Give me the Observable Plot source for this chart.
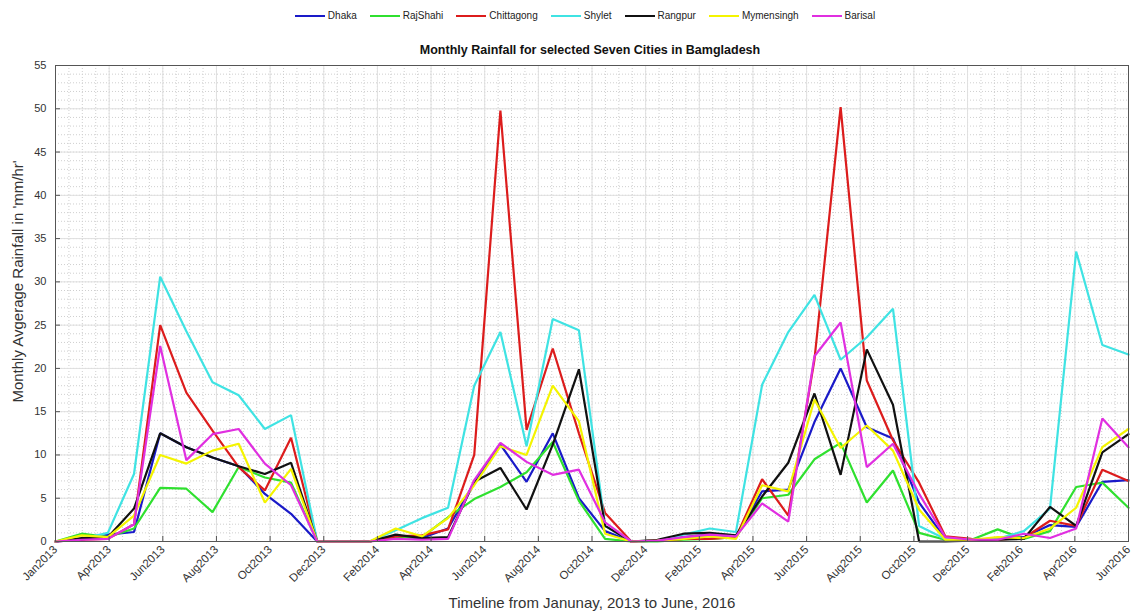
<!DOCTYPE html>
<html>
<head>
<meta charset="utf-8">
<script src="https://cdn.jsdelivr.net/npm/d3@7"></script>
<script src="https://cdn.jsdelivr.net/npm/@observablehq/plot@0.6"></script>
<style>
  html, body { margin: 0; padding: 0; background: #fff; }
  #wrap { position: relative; width: 1136px; height: 616px; overflow: hidden; font-family: "Liberation Sans", Arial, sans-serif; }
  #legend { position: absolute; left: 0; top: 10px; width: 1136px; display: flex; justify-content: center; padding-left: 34px; box-sizing: border-box; font-size: 10px; color: #222; }
  .item { display: flex; align-items: center; margin: 0 6.5px; }
  .sw { display: inline-block; width: 30px; height: 0; border-top: 2.5px solid; margin-right: 3px; }
  #title { position: absolute; left: 0; top: 43px; width: 1136px; box-sizing: border-box; padding-left: 44px; text-align: center; font-weight: bold; font-size: 12.5px; color: #111; }
  #chart { position: absolute; left: 0; top: 0; }
</style>
</head>
<body>
<div id="wrap">
  <div id="chart"></div>
  <div id="legend"></div>
  <div id="title">Monthly Rainfall for selected Seven Cities in Bamgladesh</div>
</div>
<script>
// ---- data (monthly average rainfall, Jan 2013 .. Jun 2016, 42 months) ----
const cities = ["Dhaka", "RajShahi", "Chittagong", "Shylet", "Rangpur", "Mymensingh", "Barisal"];
const colors = ["#1a1ac8", "#2fe02f", "#dc1c1c", "#3fe3e3", "#111111", "#f4f400", "#e02fe0"];

const dhaka      = [0,0.2,0.8,1.1,12.5,10.9,9.7,8.7,5.5,3.2,0,0,0,0.6,0.4,1.5,6.8,11.2,6.9,12.5,5.0,1.2,0,0.1,0.5,0.8,0.6,5.8,6.0,13.8,20.0,13.2,11.9,4.5,0.3,0.2,0.3,0.5,1.9,1.7,6.9,7.1];
const rajshahi   = [0,0.9,0.5,1.5,6.2,6.1,3.4,8.6,7.4,6.8,0,0,0,0.5,0.5,2.8,4.9,6.3,8.0,11.5,4.7,0.3,0,0,0.2,0.3,0.5,5.0,5.4,9.5,11.4,4.5,8.2,1.0,0.2,0.2,1.4,0.3,1.2,6.3,6.8,3.9];
const chittagong = [0,0.2,0.3,2.0,25.0,17.2,12.8,8.6,5.9,12.0,0,0,0,0.6,0.7,1.4,10.0,49.8,12.9,22.3,12.5,3.3,0,0.1,0.3,0.3,0.5,7.2,3.0,21.0,50.2,18.6,11.7,6.8,0.6,0.3,0.2,0.4,2.4,1.8,8.3,7.0];
const shylet     = [0,0.3,1.0,7.8,30.6,24.3,18.4,16.9,13.0,14.6,0,0,0,1.3,2.7,3.9,18.0,24.2,11.0,25.7,24.4,1.8,0,0.1,0.8,1.5,1.1,18.1,24.2,28.5,21.0,23.6,26.9,1.8,0.3,0.2,0.3,1.2,3.8,33.5,22.7,21.6];
const rangpur    = [0,0.4,0.5,3.8,12.5,10.9,9.7,8.7,7.8,9.1,0,0,0,0.8,0.4,0.5,6.9,8.5,3.7,11.2,19.9,1.8,0,0.2,0.9,1.0,0.7,5.2,9.1,17.1,7.7,22.2,15.8,0,0,0.1,0.2,0.3,4.0,1.8,10.3,12.4];
const mymensingh = [0,0.7,0.5,3.0,10.0,9.0,10.5,11.3,4.5,8.4,0,0,0,1.5,0.6,2.7,6.5,11.0,10.0,18.0,13.9,0.9,0,0.1,0.3,0.6,0.3,6.5,5.8,16.4,10.8,13.4,10.5,3.7,0.2,0.2,0.5,0.4,1.5,3.9,10.9,13.0];
const barisal    = [0,0.2,0.3,2.0,22.6,9.4,12.4,13.0,9.0,6.5,0,0,0,0.3,0.2,0.3,7.1,11.4,9.2,7.7,8.3,2.2,0,0.1,0.5,0.8,0.6,4.4,2.3,21.4,25.3,8.6,11.3,5.5,0.5,0.2,0.2,0.9,0.4,1.5,14.2,10.9];

const tickLabels = ["Jan2013","Apr2013","Jun2013","Aug2013","Oct2013","Dec2013","Feb2014","Apr2014","Jun2014","Aug2014","Oct2014","Dec2014","Feb2015","Apr2015","Jun2015","Aug2015","Oct2015","Dec2015","Feb2016","Apr2016","Jun2016"];
const yTicks = [0,5,10,15,20,25,30,35,40,45,50,55];

const xLabel = "Timeline from Janunay, 2013 to June, 2016";
const yLabel = "Monthly Avgerage Rainfall in 'mm/hr'";

// ---- build table ----
const seriesList = [dhaka, rajshahi, chittagong, shylet, rangpur, mymensingh, barisal];
const rows = [];
seriesList.forEach((s, k) => s.forEach((v, i) => rows.push({city: cities[k], i, v})));

const nMax = dhaka.length - 1;                 // last month index
const nTicks = tickLabels.length - 1;
const majorX = tickLabels.map((_, k) => k * nMax / nTicks);
const minorX = d3.range(0, nTicks * 4 + 1).map(k => k * nMax / (nTicks * 4));
const minorY = d3.range(0, 56, 1);

const chart = Plot.plot({
  width: 1136,
  height: 616,
  marginLeft: 55,
  marginRight: 8,
  marginTop: 65,
  marginBottom: 75,
  style: {fontFamily: "'Liberation Sans', Arial, sans-serif", fontSize: "11px", color: "#333", background: "white"},
  x: {domain: [0, nMax]},
  y: {domain: [0, 55]},
  color: {domain: cities, range: colors},
  marks: [
    Plot.gridY(minorY, {stroke: "#cfcfcf", strokeOpacity: 1, strokeDasharray: "1,2"}),
    Plot.gridX(minorX, {stroke: "#cfcfcf", strokeOpacity: 1, strokeDasharray: "1,2"}),
    Plot.gridY(yTicks, {stroke: "#e0e0e0", strokeOpacity: 1}),
    Plot.gridX(majorX, {stroke: "#e0e0e0", strokeOpacity: 1}),
    Plot.line(rows, {x: "i", y: "v", z: "city", stroke: "city", strokeWidth: 2.2, strokeLinejoin: "miter"}),
    Plot.frame({stroke: "#555"}),
    Plot.axisY(yTicks, {tickSize: 0, tickPadding: 9, label: null, fontSize: 11}),
    Plot.axisY(yTicks, {tickSize: -5, tickFormat: () => "", label: null, stroke: "#555"}),
    Plot.axisX(majorX, {tickSize: 0, tickPadding: 6, tickRotate: -45, tickFormat: (d, k) => tickLabels[k], label: null, fontSize: 11.5}),
    Plot.axisX(majorX, {tickSize: -5, tickFormat: () => "", label: null, stroke: "#555"}),
    Plot.text([yLabel], {frameAnchor: "left", dx: -37, dy: -22, rotate: -90, textAnchor: "middle", fontSize: 15, fill: "#333"}),
    Plot.text([xLabel], {frameAnchor: "bottom", dy: 66, textAnchor: "middle", fontSize: 15, fill: "#333"})
  ]
});
document.getElementById("chart").appendChild(chart);

// ---- legend ----
const legend = document.getElementById("legend");
cities.forEach((c, k) => {
  const it = document.createElement("div");
  it.className = "item";
  const sw = document.createElement("span");
  sw.className = "sw";
  sw.style.borderTopColor = colors[k];
  const tx = document.createElement("span");
  tx.textContent = c;
  it.appendChild(sw);
  it.appendChild(tx);
  legend.appendChild(it);
});
</script>
</body>
</html>
